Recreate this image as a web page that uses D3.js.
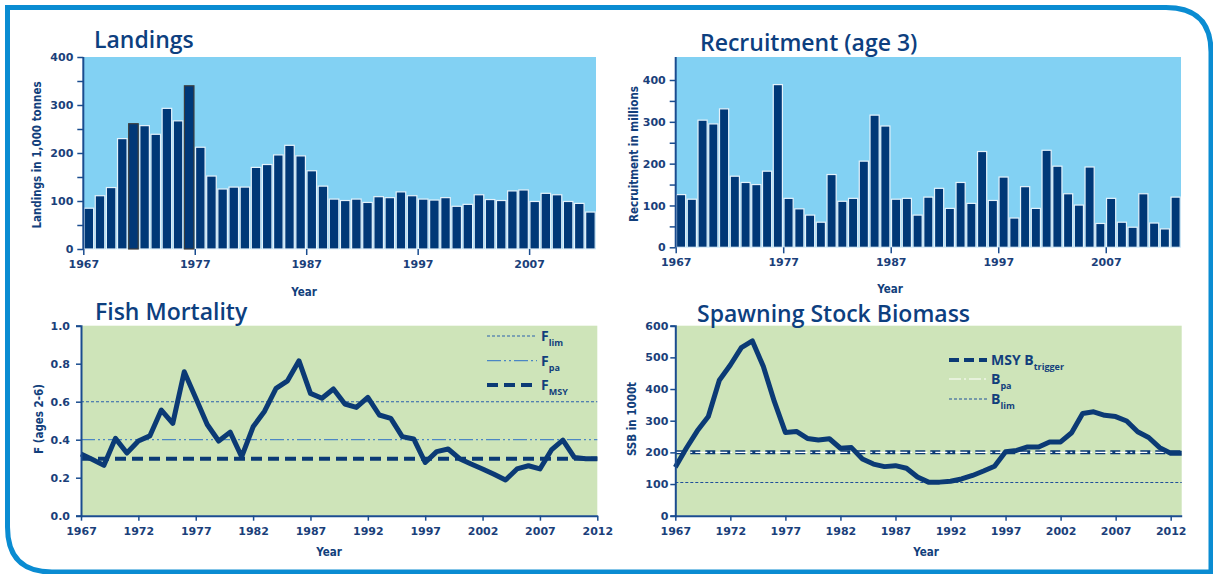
<!DOCTYPE html>
<html>
<head>
<meta charset="utf-8">
<script src="https://cdn.jsdelivr.net/npm/d3@7"></script>
<style>
    body { margin: 0; background: #ffffff; }
    svg { display: block; }
    .tick text { font-family: "DejaVu Sans", sans-serif; font-weight: bold; font-size: 11px; fill: #1b3f7a; }
    .tick line { stroke: #1a4c8f; stroke-width: 1.5; }
</style>
</head>
<body>
<div id="chart"></div>
<script>
// ---- data ----
const landingsFirstYear = 1967
const landings = [85, 111, 128, 230, 261, 257, 239, 293, 267, 340,
    212, 152, 125, 129, 129, 170, 176, 196, 216, 194,
    163, 131, 104, 101, 104, 97, 109, 107, 119, 111,
    104, 102, 107, 89, 93, 113, 103, 101, 121, 123,
    99, 116, 113, 99, 95, 77]
const landingsOutlined = [1971, 1976]

const recruitFirstYear = 1967
const recruitment = [126, 115, 304, 295, 331, 170, 155, 150, 182, 389,
    117, 92, 77, 60, 174, 110, 117, 206, 316, 290,
    115, 117, 77, 120, 141, 93, 155, 105, 229, 112,
    168, 70, 145, 93, 232, 194, 128, 101, 192, 57,
    117, 60, 48, 128, 58, 44, 120]

const fFirstYear = 1967
const fishMortality = [0.325, 0.296, 0.265, 0.407, 0.33, 0.393, 0.42, 0.556, 0.486, 0.758,
    0.62, 0.48, 0.393, 0.44, 0.31, 0.468, 0.55, 0.67, 0.71, 0.815,
    0.644, 0.618, 0.667, 0.588, 0.57, 0.623, 0.53, 0.512, 0.416, 0.404,
    0.28, 0.337, 0.351, 0.30, 0.272, 0.246, 0.218, 0.188, 0.246, 0.263,
    0.246, 0.346, 0.398, 0.307, 0.30, 0.30]
const fLim = 0.6
const fPa = 0.4
const fMsy = 0.3

const ssbFirstYear = 1967
const ssb = [153, 213, 268, 313, 428, 476, 531, 552, 471, 360,
    263, 266, 244, 239, 243, 213, 215, 179, 163, 155,
    158, 150, 122, 106, 106, 109, 116, 127, 141, 156,
    202, 206, 217, 217, 233, 233, 262, 323, 328, 317,
    313, 299, 265, 247, 215, 197, 197]
const msyBtrigger = 200
const bPa = 200
const bLim = 105

const barYearTicks = [1967, 1977, 1987, 1997, 2007]
const lineYearTicks = [1967, 1972, 1977, 1982, 1987, 1992, 1997, 2002, 2007, 2012]

// ---- styles ----
const navy = "#003877"
const textNavy = "#123f7c"
const axisNavy = "#1a4c8f"
const skyBlue = "#82d1f3"
const paleGreen = "#cee4b9"
const frameBlue = "#0a8cd2"

const width = 1213, height = 574

const svg = d3.select("#chart")
    .append("svg")
    .attr("width", width)
    .attr("height", height)

// outer frame
svg.append("path")
    .attr("d", "M1211,620 L1211,52 Q1211,7.5 1166,7.5 L7.5,7.5 L7.5,527 Q7.5,572 52,572 L1250,572")
    .attr("fill", "none")
    .attr("stroke", frameBlue)
    .attr("stroke-width", 5)

function title(x, y, txt) {
    svg.append("text")
        .attr("x", x).attr("y", y)
        .text(txt)
        .style("font-family", "'Open Sans', sans-serif")
        .style("font-weight", 600)
        .style("font-size", "23px")
        .style("fill", "#0d3f7f")
}

function axisTitle(x, y, txt, rotate) {
    svg.append("text")
        .attr("transform", "translate(" + x + "," + y + ")" + (rotate ? " rotate(-90)" : ""))
        .attr("text-anchor", "middle")
        .text(txt)
        .style("font-family", "'DejaVu Sans Condensed', 'DejaVu Sans', sans-serif")
        .style("font-weight", "bold")
        .style("font-size", "11.5px")
        .style("fill", textNavy)
}

function cleanAxis(g) {
    g.select(".domain").remove()
}

// ---------------- bar panels ----------------
function barPanel(opt) {
    const x = d3.scaleLinear()
        .domain([opt.firstYear, opt.firstYear + opt.values.length])
        .range([opt.left, opt.right])
    const y = d3.scaleLinear()
        .domain([0, opt.yMaxTick])
        .range([opt.bottom, opt.yMaxPos])

    svg.append("rect")
        .attr("x", opt.left)
        .attr("y", opt.top)
        .attr("width", opt.right - opt.left)
        .attr("height", opt.bottom - opt.top)
        .style("fill", skyBlue)

    const pitch = x(opt.firstYear + 1) - x(opt.firstYear)
    svg.append("g")
        .selectAll("rect")
        .data(opt.values)
        .enter().append("rect")
        .attr("x", (d, i) => x(opt.firstYear + i) + 0.8)
        .attr("y", d => y(d))
        .attr("width", pitch - 1.6)
        .attr("height", d => opt.bottom - y(d))
        .style("fill", navy)
        .style("stroke", (d, i) => (opt.outlined || []).includes(opt.firstYear + i) ? "#3c3c3c" : "#e4f2fb")
        .style("stroke-width", 1.2)

    svg.append("line")
        .attr("x1", opt.left).attr("x2", opt.left)
        .attr("y1", opt.bottom).attr("y2", opt.top)
        .style("stroke", axisNavy)
        .style("stroke-width", 2)

    svg.append("g")
        .attr("transform", "translate(" + opt.left + ",0)")
        .call(d3.axisLeft(y)
            .tickValues(d3.range(0, opt.yMaxTick + 1, opt.minorStep))
            .tickFormat(d => d % opt.majorStep === 0 ? d : "")
            .tickSize(6)
            .tickPadding(4))
        .call(cleanAxis)

    svg.append("g")
        .attr("transform", "translate(0," + opt.bottom + ")")
        .call(d3.axisBottom(x)
            .tickValues(barYearTicks)
            .tickFormat(d3.format("d"))
            .tickSize(6)
            .tickPadding(5))
        .call(cleanAxis)
}

barPanel({
    values: landings, firstYear: landingsFirstYear, outlined: landingsOutlined,
    left: 83.3, right: 596, top: 57, bottom: 249, yMaxPos: 57, yMaxTick: 400,
    minorStep: 50, majorStep: 100
})
title(94, 48, "Landings")
axisTitle(41, 155, "Landings in 1,000 tonnes", true)
axisTitle(304, 296, "Year", false)

barPanel({
    values: recruitment, firstYear: recruitFirstYear,
    left: 675.7, right: 1181, top: 57, bottom: 247.3, yMaxPos: 80, yMaxTick: 400,
    minorStep: 50, majorStep: 100
})
title(700, 51, "Recruitment (age 3)")
axisTitle(638, 154, "Recruitment in millions", true)
axisTitle(890, 293, "Year", false)

// ---------------- line panels ----------------
function linePanel(opt) {
    const x = d3.scaleLinear()
        .domain([opt.firstYear, opt.lastYear])
        .range([opt.left, opt.right])
    const y = d3.scaleLinear()
        .domain(opt.yDomain)
        .range([opt.bottom, opt.top])

    svg.append("rect")
        .attr("x", opt.left)
        .attr("y", opt.top)
        .attr("width", opt.right - opt.left)
        .attr("height", opt.bottom - opt.top)
        .style("fill", paleGreen)

    // reference lines
    opt.refs.forEach(r => {
        svg.append("line")
            .attr("x1", opt.left).attr("x2", opt.right)
            .attr("y1", y(r.value)).attr("y2", y(r.value))
            .style("stroke", r.color)
            .style("stroke-width", r.width)
            .style("stroke-dasharray", r.dash)
    })

    svg.append("path")
        .datum(opt.values)
        .attr("d", d3.line()
            .x((d, i) => x(opt.firstYear + i))
            .y(d => y(d)))
        .style("fill", "none")
        .style("stroke", "#0b3a75")
        .style("stroke-width", 5)
        .style("stroke-linejoin", "round")

    svg.append("g")
        .attr("transform", "translate(" + opt.left + ",0)")
        .call(d3.axisLeft(y)
            .tickValues(opt.yTicks)
            .tickFormat(opt.yFormat)
            .tickSize(5)
            .tickPadding(opt.yPad))
        .call(g => g.select(".domain").style("stroke", axisNavy).style("stroke-width", 2))

    svg.append("g")
        .attr("transform", "translate(0," + opt.bottom + ")")
        .call(d3.axisBottom(x)
            .tickValues(lineYearTicks)
            .tickFormat(d3.format("d"))
            .tickSize(5)
            .tickSizeOuter(0)
            .tickPadding(7))
        .call(g => g.select(".domain").style("stroke", axisNavy).style("stroke-width", 2))
}

function legendItem(x1, x2, y, line, main, sub) {
    svg.append("line")
        .attr("x1", x1).attr("x2", x2)
        .attr("y1", y).attr("y2", y)
        .style("stroke", line.color)
        .style("stroke-width", line.width)
        .style("stroke-dasharray", line.dash)
    const t = svg.append("text")
        .attr("x", x2 + 4)
        .attr("y", y + 5)
        .style("font-family", "'Open Sans', sans-serif")
        .style("font-weight", "bold")
        .style("font-size", "14px")
        .style("fill", textNavy)
    t.append("tspan").text(main)
    t.append("tspan")
        .attr("dy", 5)
        .style("font-size", "9px")
        .text(sub)
}

const fLimStyle = {color: "#2b60ad", width: 1.1, dash: "3,2"}
const fPaStyle = {color: "#4b86c4", width: 1.3, dash: "14,3,2,3,2,3"}
const fMsyStyle = {color: "#0b3a75", width: 4, dash: "11,6"}

linePanel({
    values: fishMortality, firstYear: fFirstYear, lastYear: 2012,
    left: 81, right: 597.3, top: 325.7, bottom: 515.7,
    yDomain: [0, 1], yTicks: [0, 0.2, 0.4, 0.6, 0.8, 1.0], yFormat: d3.format(".1f"), yPad: 6,
    refs: [
        Object.assign({value: fLim}, fLimStyle),
        Object.assign({value: fPa}, fPaStyle),
        Object.assign({value: fMsy}, fMsyStyle)
    ]
})
title(95, 320, "Fish Mortality")
axisTitle(43, 419, "F (ages 2-6)", true)
axisTitle(329, 556, "Year", false)
legendItem(487, 537, 336, fLimStyle, "F", "lim")
legendItem(487, 537, 360.7, fPaStyle, "F", "pa")
legendItem(487, 537, 385, fMsyStyle, "F", "MSY")

const bMsyStyle = {color: "#0b3a75", width: 4, dash: "10,5"}
const bPaStyle = {color: "#ffffff", width: 1.2, dash: "12,3,2,3"}
const bLimStyle = {color: "#1f4f9a", width: 1.1, dash: "3,2"}

linePanel({
    values: ssb, firstYear: ssbFirstYear, lastYear: 2013,
    left: 675.3, right: 1181.7, top: 325.7, bottom: 515.7,
    yDomain: [0, 600], yTicks: [0, 100, 200, 300, 400, 500, 600], yFormat: d3.format("d"), yPad: 2,
    refs: [
        Object.assign({value: msyBtrigger}, bMsyStyle),
        Object.assign({value: bPa}, bPaStyle),
        Object.assign({value: bLim}, bLimStyle)
    ]
})
title(697, 322, "Spawning Stock Biomass")
axisTitle(636, 419, "SSB in 1000t", true)
axisTitle(926, 556, "Year", false)
legendItem(949, 987, 360, bMsyStyle, "MSY B", "trigger")
legendItem(949, 987, 379, bPaStyle, "B", "pa")
legendItem(949, 987, 399, bLimStyle, "B", "lim")
</script>
</body>
</html>
